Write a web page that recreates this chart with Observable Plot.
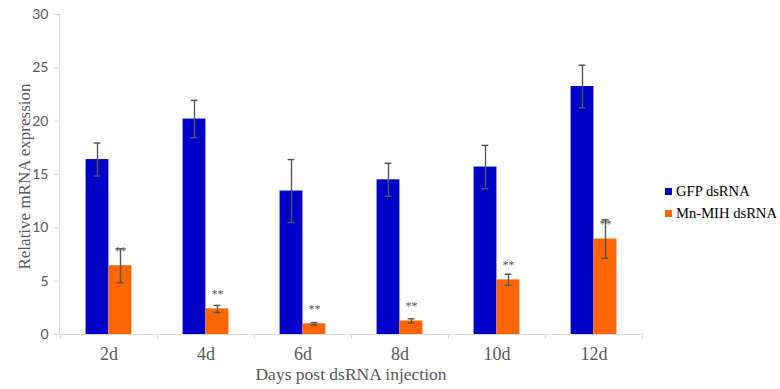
<!DOCTYPE html>
<html>
<head>
<meta charset="utf-8">
<script src="https://cdn.jsdelivr.net/npm/d3@7"></script>
<script src="https://cdn.jsdelivr.net/npm/@observablehq/plot@0.6"></script>
<style>
  html, body { margin: 0; padding: 0; background: #fff; }
  #wrap { position: relative; width: 780px; height: 389px; }
  #legend { position: absolute; left: 665px; top: 180px; font-family: "Liberation Serif", serif; font-size: 14.6px; color: #000; }
  #legend .row { display: flex; align-items: center; height: 22px; }
  #legend .sw { width: 7px; height: 7px; margin-right: 4px; }
</style>
</head>
<body>
<div id="wrap"><div id="legend"></div></div>
<script>
const days = ["2d", "4d", "6d", "8d", "10d", "12d"];
const gfpMean = [16.4, 20.2, 13.45, 14.5, 15.7, 23.25];
const gfpErr = [1.55, 1.75, 2.95, 1.55, 2.03, 2.0];
const mihMean = [6.45, 2.4, 1.0, 1.27, 5.12, 8.95];
const mihErr = [1.6, 0.33, 0.12, 0.2, 0.52, 1.8];
const sigLabels = ["**", "**", "**", "**", "**", "**"];
const yTicks = [0, 5, 10, 15, 20, 25, 30];
const seriesNames = ["GFP dsRNA", "Mn-MIH dsRNA"];
const seriesColors = ["#0000c8", "#ff6600"];

const W = 780, H = 389, mL = 59, mR = 138, mT = 14, mB = 55;
const bw = (W - mL - mR) / days.length;
const barW = 23;
const inset = (bw - barW) / 2;
const capInset = (bw - 7) / 2;
const off = 11.5;

const gfp = days.map((d, i) => ({day: d, v: gfpMean[i], e: gfpErr[i]}));
const mih = days.map((d, i) => ({day: d, v: mihMean[i], e: mihErr[i], s: sigLabels[i]}));
const errColor = "#555555";

function errMarks(data, dx) {
  return [
    Plot.ruleX(data, {x: "day", y1: d => d.v - d.e, y2: d => d.v + d.e, dx, stroke: errColor, strokeWidth: 1.4}),
    Plot.tickY(data, {x: "day", y: d => d.v + d.e, dx, insetLeft: capInset, insetRight: capInset, stroke: errColor, strokeWidth: 1.4}),
    Plot.tickY(data, {x: "day", y: d => d.v - d.e, dx, insetLeft: capInset, insetRight: capInset, stroke: errColor, strokeWidth: 1.4})
  ];
}

const chart = Plot.plot({
  width: W, height: H,
  marginLeft: mL, marginRight: mR, marginTop: mT, marginBottom: mB,
  style: {fontFamily: "Liberation Serif, serif", background: "transparent"},
  x: {domain: days, padding: 0, label: null},
  y: {domain: [0, 30], label: null},
  marks: [
    Plot.frame({anchor: "left", stroke: "#d9d9d9"}),
    Plot.ruleX(days, {x: d => d, y1: 0, y2: -0.45, dx: -bw / 2, stroke: "#d9d9d9", clip: false}),
    Plot.ruleX(days.slice(-1), {x: d => d, y1: 0, y2: -0.45, dx: bw / 2, stroke: "#d9d9d9", clip: false}),
    Plot.barY(gfp, {x: "day", y: "v", dx: -off, insetLeft: inset, insetRight: inset, fill: seriesColors[0]}),
    Plot.barY(mih, {x: "day", y: "v", dx: off, insetLeft: inset, insetRight: inset, fill: seriesColors[1]}),
    ...errMarks(gfp, -off),
    ...errMarks(mih, off),
    Plot.text(mih, {x: "day", y: "v", text: "s", dx: off, dy: -14.5, fontSize: 12, fill: "#595959"}),
    Plot.ruleY([0], {stroke: "#d9d9d9"}),
    Plot.axisY({ticks: yTicks, tickSize: 5, tickPadding: 6, fontSize: 14, fontFamily: "Lato", stroke: "#d9d9d9", fill: "#595959", label: null}),
    Plot.axisX({tickSize: 0, tickPadding: 13, fontSize: 18, fill: "#595959", label: null}),
    Plot.text(["Days post dsRNA injection"], {frameAnchor: "bottom", dy: 45, fontSize: 17.5, fill: "#595959"}),
    Plot.text(["Relative mRNA expression"], {frameAnchor: "left", dx: -35, dy: 2, rotate: -90, textAnchor: "middle", fontSize: 17, fill: "#595959"})
  ]
});

const wrap = document.getElementById("wrap");
wrap.insertBefore(chart, wrap.firstChild);

const legend = document.getElementById("legend");
seriesNames.forEach((name, i) => {
  const row = document.createElement("div");
  row.className = "row";
  const sw = document.createElement("span");
  sw.className = "sw";
  sw.style.background = seriesColors[i];
  const t = document.createElement("span");
  t.textContent = name;
  row.appendChild(sw);
  row.appendChild(t);
  legend.appendChild(row);
});
</script>
</body>
</html>
